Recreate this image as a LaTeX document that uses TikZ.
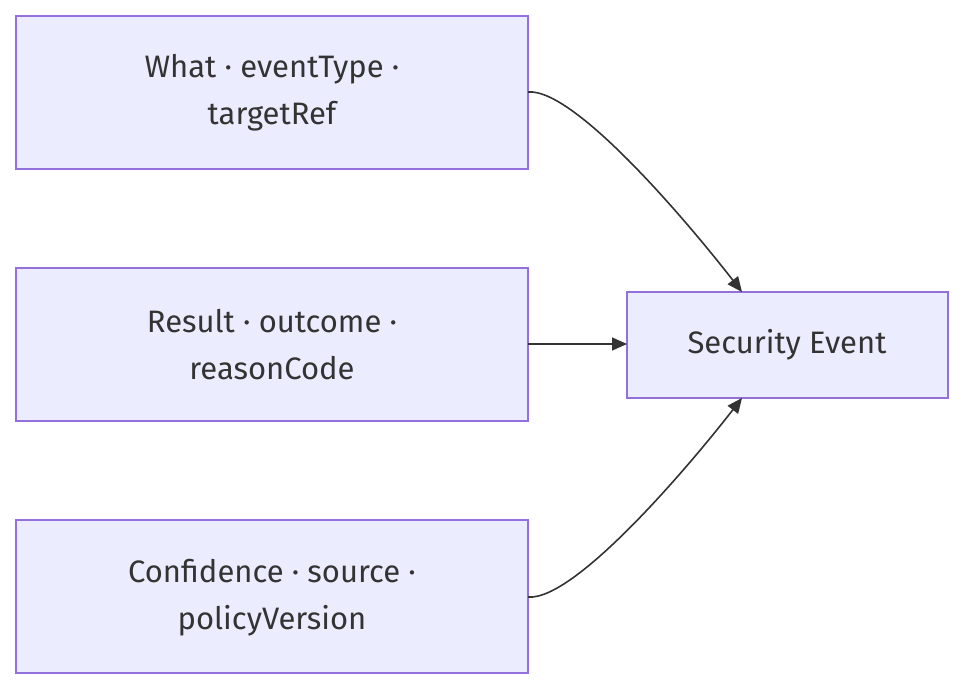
\documentclass[tikz,border=0pt]{standalone}
\usepackage{fontspec}
\setmainfont{Fira Sans}
\usetikzlibrary{arrows.meta}
\definecolor{boxfill}{HTML}{ECECFF}
\definecolor{boxline}{HTML}{9370DB}
\definecolor{txt}{HTML}{333333}
\tikzset{
  box/.style={draw=boxline, fill=boxfill, line width=1.3pt, inner sep=0pt},
  lbl/.style={text=txt, align=center, font=\fontsize{31}{47}\selectfont},
  conn/.style={draw=txt, line width=1.6pt, -{Triangle[length=15pt,width=13pt]}}
}
\begin{document}
\begin{tikzpicture}[x=1pt,y=-1pt]
\useasboundingbox (0,0) rectangle (980,700);
\draw[box] (16,16) rectangle (528,169);
\draw[box] (16,268) rectangle (528,421);
\draw[box] (16,520) rectangle (528,673);
\draw[box] (627,292) rectangle (948,398);
\coordinate (a) at (528,92);
\coordinate (b) at (528,344);
\coordinate (c) at (528,597);
\coordinate (ta) at (742,292);
\coordinate (tb) at (627,344);
\coordinate (tc) at (742,398);
\node[lbl] (la) at (272,93) {What · eventType · \\ targetRef};
\node[lbl] (lb) at (272,345) {Result · outcome · \\ reasonCode};
\node[lbl] (lc) at (272,598) {Confidence · source · \\ policyVersion};
\node[lbl] (ls) at (787,345) {Security Event};
\draw[conn] (a) .. controls (575,88) and (690,225) .. (ta);
\draw[conn] (b) -- (tb);
\draw[conn] (c) .. controls (575,601) and (690,465) .. (tc);
\end{tikzpicture}
\end{document}
